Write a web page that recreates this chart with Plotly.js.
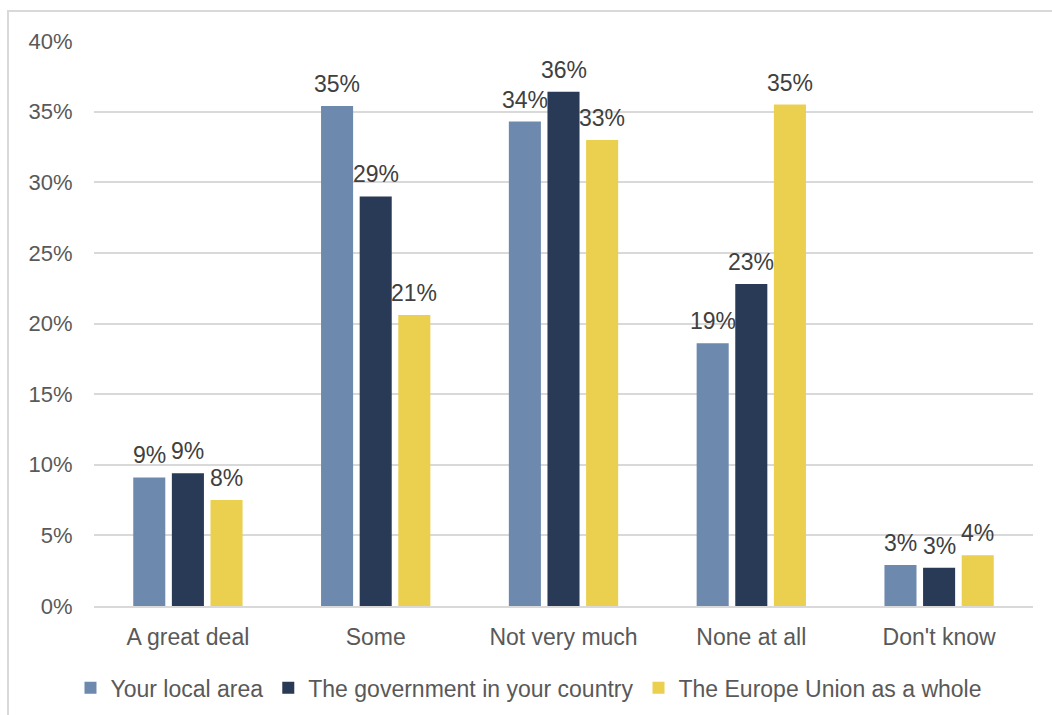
<!DOCTYPE html>
<html>
<head>
<meta charset="utf-8">
<script src="https://cdn.plot.ly/plotly-3.0.1.min.js"></script>
<style>
html,body{margin:0;padding:0;background:#fff;}
#chart{width:1052px;height:715px;}
</style>
</head>
<body>
<div id="chart"></div>
<script>
const categories = ["A great deal", "Some", "Not very much", "None at all", "Don't know"];
const seriesNames = ["Your local area", "The government in your country", "The Europe Union as a whole"];
const localArea = [9.1, 35.4, 34.3, 18.6, 2.9];
const government = [9.4, 29.0, 36.4, 22.8, 2.7];
const europeUnion = [7.5, 20.6, 33.0, 35.5, 3.6];
const labelsLocal = ["9%", "35%", "34%", "19%", "3%"];
const labelsGov = ["9%", "29%", "36%", "23%", "3%"];
const labelsEU = ["8%", "21%", "33%", "35%", "4%"];
const tickVals = [0, 5, 10, 15, 20, 25, 30, 35, 40];
const tickText = ["0%", "5%", "10%", "15%", "20%", "25%", "30%", "35%", "40%"];
const colors = ["#6d89ae", "#283a55", "#ebcf4e"];

const seriesValues = [localArea, government, europeUnion];
const seriesLabels = [labelsLocal, labelsGov, labelsEU];

const FONT = "Liberation Sans, Arial, sans-serif";
const bargap = 0.383;
const slot = (1 - bargap) / 3;

const traces = seriesValues.map((vals, i) => ({
  type: "bar",
  name: seriesNames[i],
  x: categories,
  y: vals,
  marker: {color: colors[i], line: {width: 0}},
  hoverinfo: "skip"
}));

const annotations = [];
seriesValues.forEach((vals, i) => {
  vals.forEach((v, j) => {
    annotations.push({
      xref: "x", yref: "y",
      x: j + (i - 1) * slot,
      y: v,
      text: seriesLabels[i][j],
      showarrow: false,
      xanchor: "center",
      yanchor: "bottom",
      yshift: 7,
      font: {family: FONT, size: 23, color: "#404040"}
    });
  });
});

const layout = {
  width: 1052,
  height: 715,
  margin: {l: 94, r: 19, t: 41, b: 109},
  paper_bgcolor: "#ffffff",
  plot_bgcolor: "#ffffff",
  barmode: "group",
  bargap: bargap,
  bargroupgap: 0.17,
  showlegend: true,
  legend: {
    orientation: "h",
    xref: "container",
    yref: "container",
    x: 0.067,
    xanchor: "left",
    y: 0.038,
    yanchor: "middle",
    font: {family: FONT, size: 23, color: "#595959"},
    traceorder: "normal",
    itemclick: false,
    itemdoubleclick: false
  },
  xaxis: {
    type: "category",
    tickfont: {family: FONT, size: 23, color: "#595959"},
    showgrid: false,
    showline: true,
    linecolor: "#d9d9d9",
    linewidth: 2,
    ticks: "outside",
    ticklen: 9,
    tickcolor: "rgba(0,0,0,0)",
    fixedrange: true,
    automargin: false
  },
  yaxis: {
    range: [0, 40],
    tickvals: tickVals,
    ticktext: tickText,
    tickfont: {family: FONT, size: 22, color: "#595959"},
    showgrid: true,
    gridcolor: "#d9d9d9",
    gridwidth: 2,
    zeroline: false,
    showline: false,
    ticks: "outside",
    ticklen: 16,
    tickcolor: "rgba(0,0,0,0)",
    fixedrange: true,
    automargin: false
  },
  annotations: annotations,
  shapes: [{
    type: "rect",
    xref: "paper", yref: "paper",
    x0: (8 - 94) / 939, x1: 1.2,
    y0: -0.5, y1: (606 - 11) / 565,
    line: {color: "#d9d9d9", width: 2},
    fillcolor: "rgba(0,0,0,0)",
    layer: "below"
  }]
};

Plotly.newPlot("chart", traces, layout, {displayModeBar: false, staticPlot: true});
</script>
</body>
</html>
